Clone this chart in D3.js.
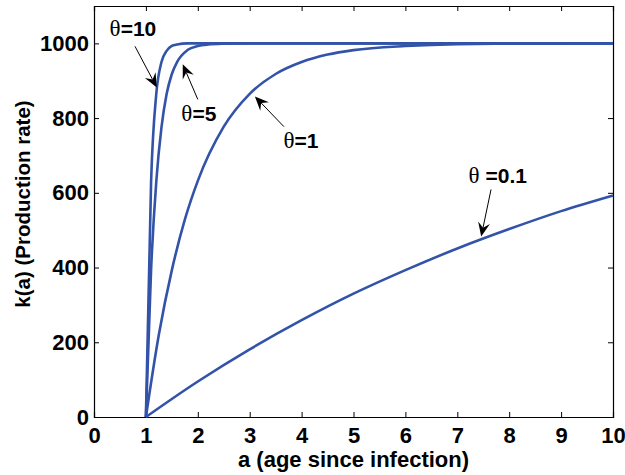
<!DOCTYPE html>
<html>
<head>
<meta charset="utf-8">
<script src="https://cdn.jsdelivr.net/npm/d3@7"></script>
<style>
  body { margin: 0; background: #fff; }
  svg text { font-family: "Liberation Sans", Arial, Helvetica, sans-serif; font-weight: bold; fill: #000; }
</style>
</head>
<body>
<script>
// values: k(a) for each theta
const ageT10 = [1, 1.1, 1.2, 1.3, 1.4, 1.5, 1.6, 1.8, 2, 10];
const rateT10 = [0, 630, 865, 950, 980, 993, 997, 1000, 1000, 1000];
const ageT5 = [1, 1.1, 1.2, 1.3, 1.4, 1.5, 1.6, 1.8, 2, 2.2, 2.5, 3, 10];
const rateT5 = [0, 395, 630, 775, 865, 918, 950, 982, 993, 997, 999, 1000, 1000];
const ageT1 = [1, 1.25, 1.5, 1.75, 2, 2.5, 3, 3.5, 4, 4.5, 5, 6, 7, 8, 10];
const rateT1 = [0, 221, 393, 528, 632, 777, 865, 918, 950, 970, 982, 993, 998, 999, 1000];
const ageT01 = [1, 2, 3, 4, 5, 6, 7, 8, 9, 10];
const rateT01 = [0, 95, 181, 259, 330, 393, 451, 503, 551, 593];

const xTicks = [0, 1, 2, 3, 4, 5, 6, 7, 8, 9, 10];
const yTicks = [0, 200, 400, 600, 800, 1000];

// labels with arrows: text pos, arrow start, arrow tip (data units)
const labelNames = ['=10', '=5', '=1', ' =0.1'];
const labelPos = [[0.75, 1019], [2.02, 791], [3.99, 721], [7.78, 627]];
const arrowFrom = [[0.79, 992], [2.0, 850], [3.66, 777], [7.65, 609]];
const arrowTo = [[1.21, 882], [1.71, 944], [3.10, 858], [7.46, 483]];

const W = 625, H = 475;
const margin = { top: 6, right: 12, bottom: 58, left: 94 };
const width = W - margin.left - margin.right;
const height = H - margin.top - margin.bottom;
const blue = '#3253a8';

const svg = d3.select('body').append('svg')
  .attr('width', W)
  .attr('height', H);

const g = svg.append('g')
  .attr('transform', `translate(${margin.left},${margin.top})`);

const x = d3.scaleLinear().domain([0, 10]).range([0, width]);
const y = d3.scaleLinear().domain([0, 1100]).range([height, 0]);

// axes, ticks pointing inward and mirrored on the opposite side
const tickLen = 5;
g.append('g').attr('transform', `translate(0,${height})`)
  .call(d3.axisBottom(x).tickValues(xTicks).tickSize(-tickLen).tickPadding(10).tickFormat(d3.format('d')))
  .call(s => s.selectAll('text').attr('font-size', 22).attr('dy', '0.71em'));
g.append('g')
  .call(d3.axisTop(x).tickValues(xTicks).tickSize(-tickLen).tickFormat(''));
g.append('g')
  .call(d3.axisLeft(y).tickValues(yTicks).tickSize(-tickLen).tickPadding(5).tickFormat(d3.format('d')))
  .call(s => s.selectAll('text').attr('font-size', 22));
g.append('g').attr('transform', `translate(${width},0)`)
  .call(d3.axisRight(y).tickValues(yTicks).tickSize(-tickLen).tickFormat(''));
g.selectAll('.domain').attr('stroke', '#000').attr('stroke-width', 1.2);
g.selectAll('.tick line').attr('stroke', '#000');
g.selectAll('.tick text').attr('font-family', '"Liberation Sans", Arial, sans-serif').attr('font-weight', 'bold');

// curves
const series = [
  ageT10.map((a, i) => [a, rateT10[i]]),
  ageT5.map((a, i) => [a, rateT5[i]]),
  ageT1.map((a, i) => [a, rateT1[i]]),
  ageT01.map((a, i) => [a, rateT01[i]]),
];
const line = d3.line()
  .x(d => x(d[0]))
  .y(d => y(d[1]))
  .curve(d3.curveMonotoneX);
g.selectAll('.curve').data(series).enter().append('path')
  .attr('class', 'curve')
  .attr('d', line)
  .attr('fill', 'none')
  .attr('stroke', blue)
  .attr('stroke-width', 2.6)
  .attr('stroke-linejoin', 'round');

// arrows
labelNames.forEach((name, i) => {
  const x0 = x(arrowFrom[i][0]), y0 = y(arrowFrom[i][1]);
  const x1 = x(arrowTo[i][0]), y1 = y(arrowTo[i][1]);
  const ang = Math.atan2(y1 - y0, x1 - x0);
  const len = 14, half = 6, notch = 9;
  const ux = Math.cos(ang), uy = Math.sin(ang);
  const bx = x1 - ux * len, by = y1 - uy * len;
  const nx = x1 - ux * notch, ny = y1 - uy * notch;
  g.append('line')
    .attr('x1', x0).attr('y1', y0).attr('x2', nx).attr('y2', ny)
    .attr('stroke', '#000').attr('stroke-width', 1);
  g.append('path')
    .attr('d', `M${x1},${y1}L${bx - uy * half},${by + ux * half}L${nx},${ny}L${bx + uy * half},${by - ux * half}Z`)
    .attr('fill', '#000');

  const t = g.append('text')
    .attr('x', x(labelPos[i][0]))
    .attr('y', y(labelPos[i][1]))
    .attr('text-anchor', 'middle')
    .attr('font-size', 21);
  t.append('tspan')
    .attr('font-family', '"Liberation Serif", "Times New Roman", serif')
    .attr('font-weight', 'normal')
    .attr('font-size', 23)
    .text('θ');
  t.append('tspan').text(name);
});

// axis titles
svg.append('text')
  .attr('x', margin.left + x(5))
  .attr('y', 467)
  .attr('text-anchor', 'middle')
  .attr('font-size', 22)
  .text('a (age since infection)');
svg.append('text')
  .attr('transform', 'translate(30,204) rotate(-90)')
  .attr('text-anchor', 'middle')
  .attr('font-size', 20.5)
  .text('k(a) (Production rate)');
</script>
</body>
</html>
